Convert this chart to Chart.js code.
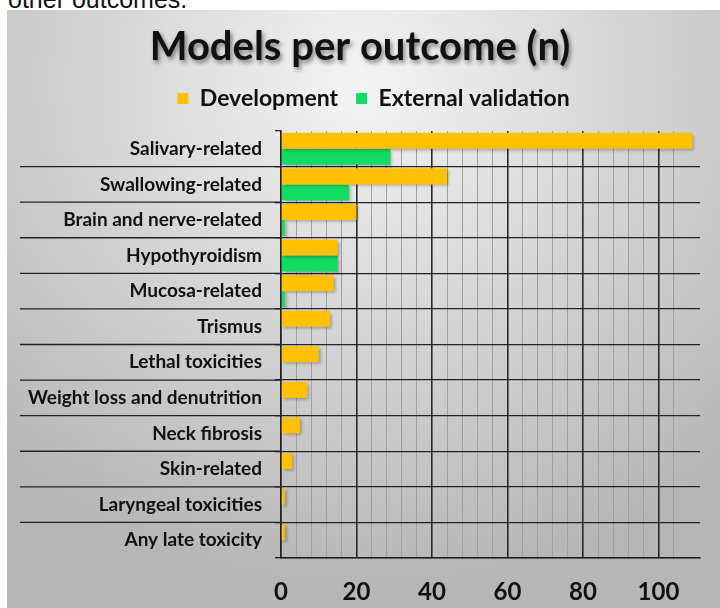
<!DOCTYPE html>
<html>
<head>
<meta charset="utf-8">
<title>Models per outcome</title>
<script src="https://cdn.jsdelivr.net/npm/chart.js@4.4.1/dist/chart.umd.min.js"></script>
<style>
  html, body { margin: 0; padding: 0; background: #fff; overflow: hidden; }
  body { width: 720px; height: 608px; position: relative; }
  #caption {
    position: absolute; left: 8px; top: -13px;
    font: 25px/25px "Liberation Sans", Arial, sans-serif; color: #111;
  }
  #panel {
    position: absolute; left: 7px; top: 10px; width: 713px; height: 598px;
    background: radial-gradient(ellipse 75% 85% at 50% 12%, #f4f4f4 0%, #d8d8d8 45%, #b6b6b6 100%);
  }
  #outcome-chart { display: block; }
</style>
</head>
<body>
<div id="caption">other outcomes.</div>
<div id="panel"><canvas id="outcome-chart" width="713" height="598"></canvas></div>
<script>
// Outcome categories, top to bottom
var outcomes = [
    'Salivary-related',
    'Swallowing-related',
    'Brain and nerve-related',
    'Hypothyroidism',
    'Mucosa-related',
    'Trismus',
    'Lethal toxicities',
    'Weight loss and denutrition',
    'Neck fibrosis',
    'Skin-related',
    'Laryngeal toxicities',
    'Any late toxicity'
];

// Number of models per outcome
var developmentCounts = [109, 44, 20, 15, 14, 13, 10, 7, 5, 3, 1, 1];
var validationCounts  = [29, 18, 1, 15, 1, 0, 0, 0, 0, 0, 0, 0];

var seriesNames = ['Development', 'External validation'];

// x axis: minor lines every 4, labels every 20
var axisMax = 111;
var minorStep = 4;
var labelStep = 20;

Chart.defaults.font.family = 'Lato, "Open Sans", sans-serif';
Chart.defaults.color = '#111';

// Big title with a soft drop shadow
var shadowTitle = {
    id: 'shadowTitle',
    afterDraw: function(chart) {
        var ctx = chart.ctx;
        ctx.save();
        ctx.font = 'bold 40px Lato, "Open Sans", sans-serif';
        ctx.fillStyle = '#111';
        ctx.textAlign = 'center';
        ctx.textBaseline = 'middle';
        ctx.shadowColor = 'rgba(0,0,0,0.45)';
        ctx.shadowBlur = 4;
        ctx.shadowOffsetX = 2;
        ctx.shadowOffsetY = 3;
        ctx.fillText('Models per outcome (n)', 353, 37);
        ctx.restore();
    }
};

// Nudge the legend a little right of the canvas centre
var legendShift = {
    id: 'legendShift',
    afterLayout: function(chart) {
        chart.legend.left += 19;
        chart.legend.right += 19;
    }
};

// Category separators continue left underneath the labels
var labelSeparators = {
    id: 'labelSeparators',
    beforeDatasetsDraw: function(chart) {
        var ctx = chart.ctx;
        var yScale = chart.scales.y;
        ctx.save();
        ctx.strokeStyle = '#222';
        ctx.lineWidth = 1.3;
        for (var i = 1; i < outcomes.length; i++) {
            var y = (yScale.getPixelForValue(i - 1) + yScale.getPixelForValue(i)) / 2;
            ctx.beginPath();
            ctx.moveTo(13, y);
            ctx.lineTo(chart.chartArea.left, y);
            ctx.stroke();
        }
        ctx.restore();
    }
};

// Bars get a small shadow to the lower right
var barShadow = {
    id: 'barShadow',
    beforeDatasetsDraw: function(chart) {
        var ctx = chart.ctx;
        ctx.save();
        ctx.shadowColor = 'rgba(0,0,0,0.3)';
        ctx.shadowBlur = 3;
        ctx.shadowOffsetX = 2;
        ctx.shadowOffsetY = 2;
    },
    afterDatasetsDraw: function(chart) {
        chart.ctx.restore();
    }
};

var ctx = document.getElementById('outcome-chart').getContext('2d');
var chart = new Chart(ctx, {
    type: 'bar',
    data: {
        labels: outcomes,
        datasets: [{
            label: seriesNames[0],
            data: developmentCounts,
            backgroundColor: '#ffc000',
            categoryPercentage: 0.9,
            barPercentage: 1
        }, {
            label: seriesNames[1],
            data: validationCounts,
            backgroundColor: '#12dd62',
            categoryPercentage: 0.9,
            barPercentage: 1
        }]
    },
    options: {
        indexAxis: 'y',
        responsive: false,
        animation: false,
        layout: {
            padding: { top: 59, left: 0, right: 18, bottom: 0 }
        },
        plugins: {
            title: { display: false },
            tooltip: { enabled: false },
            legend: {
                display: true,
                position: 'top',
                labels: {
                    boxWidth: 11,
                    boxHeight: 11,
                    padding: 18,
                    color: '#111',
                    font: { size: 23, weight: 'bold' }
                }
            }
        },
        scales: {
            x: {
                min: 0,
                max: axisMax,
                afterFit: function(scale) { scale.height = 50; },
                border: { display: true, color: '#222', width: 1.5 },
                grid: {
                    drawTicks: false,
                    color: function(c) {
                        var v = c.tick ? c.tick.value : -1;
                        if (v % labelStep === 0) return '#2a2a2a';
                        if (v % minorStep === 0) return '#a0a0a0';
                        return 'rgba(0,0,0,0)';
                    },
                    lineWidth: function(c) {
                        var v = c.tick ? c.tick.value : -1;
                        return v % labelStep === 0 ? 1.6 : 1;
                    }
                },
                ticks: {
                    stepSize: minorStep,
                    autoSkip: false,
                    maxRotation: 0,
                    padding: 20,
                    color: '#111',
                    font: { size: 24, weight: 'bold' },
                    callback: function(v) {
                        return v % labelStep === 0 ? v : '';
                    }
                }
            },
            // empty band between the legend and the plot
            xTop: {
                type: 'linear',
                position: 'top',
                min: 0,
                max: axisMax,
                afterFit: function(scale) { scale.height = 11; },
                grid: { display: false },
                border: { display: false },
                ticks: { display: false }
            },
            y: {
                afterFit: function(scale) { scale.width = 274; },
                border: { display: true, color: '#222', width: 1.5 },
                grid: {
                    offset: true,
                    tickLength: 6,
                    tickColor: '#222',
                    lineWidth: 1.3,
                    color: function(c) {
                        return c.index === 0 ? 'rgba(0,0,0,0)' : '#222';
                    }
                },
                ticks: {
                    padding: 13,
                    color: '#111',
                    font: { size: 19, weight: 'bold' }
                }
            }
        }
    },
    plugins: [legendShift, labelSeparators, barShadow, shadowTitle]
});
</script>
</body>
</html>
